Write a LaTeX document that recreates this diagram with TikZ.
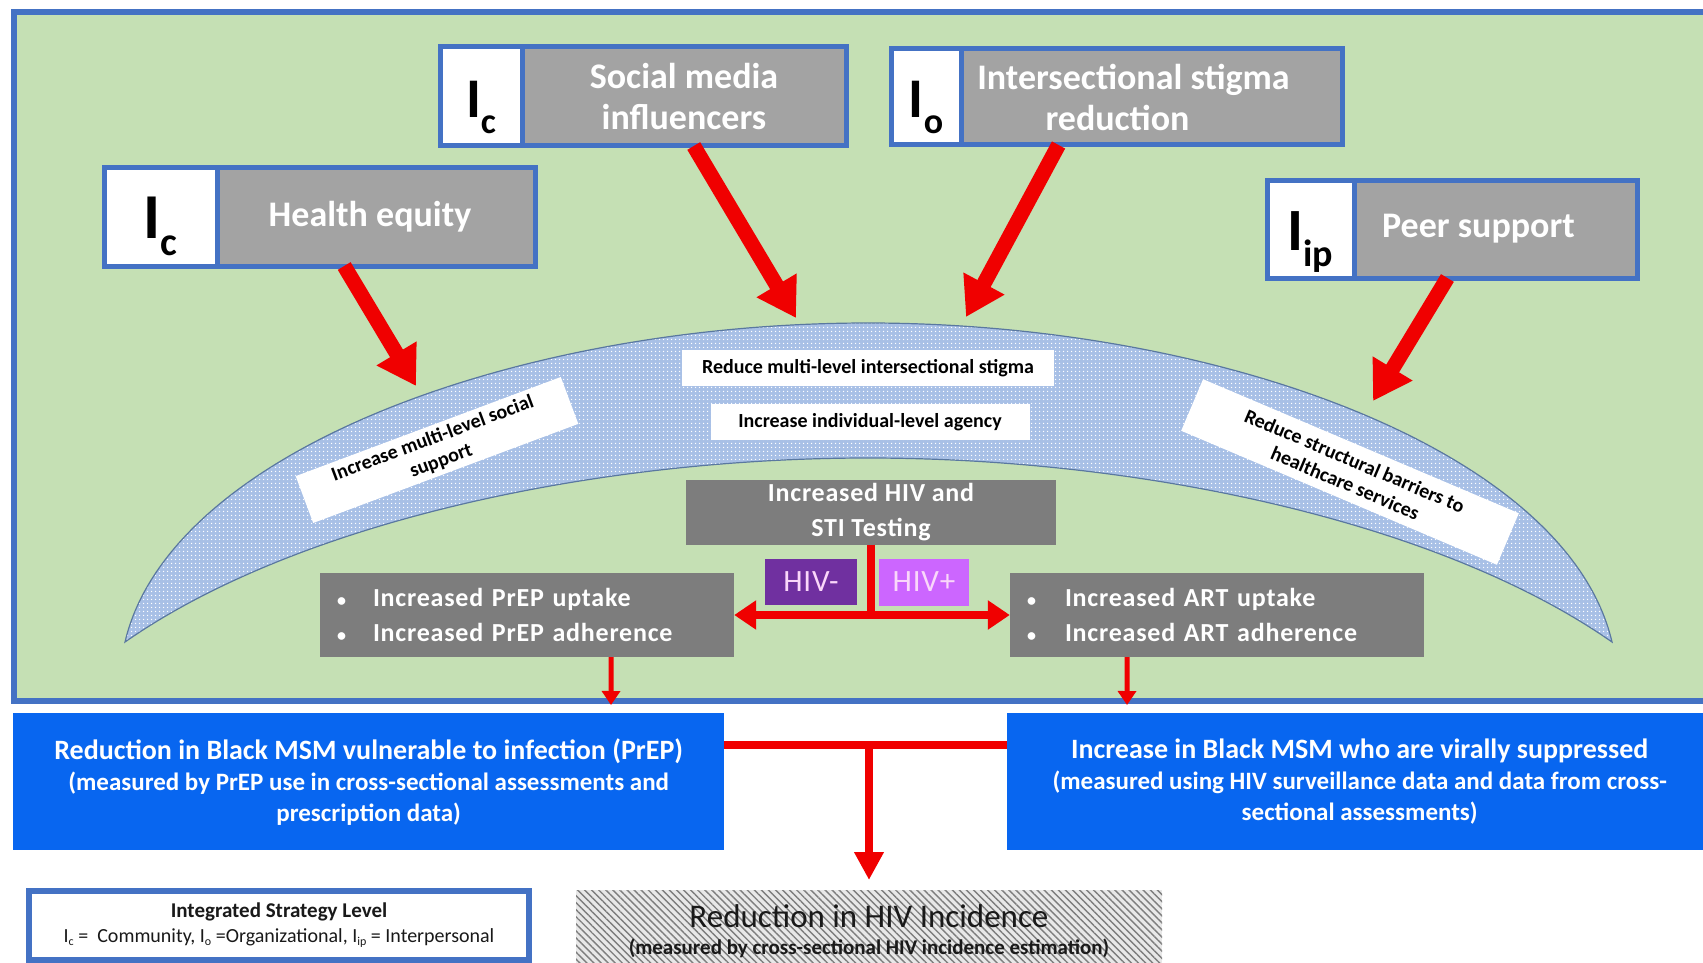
\documentclass[tikz,border=0pt]{standalone}
\usepackage{fontspec}
\setmainfont{Carlito}
\newfontfamily\spfont[LetterSpace=3]{Carlito}
\usetikzlibrary{arrows.meta,calc,patterns.meta}
\definecolor{frameblue}{RGB}{68,114,196}
\definecolor{bggreen}{RGB}{197,224,180}
\definecolor{lgray}{RGB}{163,163,163}
\definecolor{dgray}{RGB}{125,125,125}
\definecolor{brightblue}{RGB}{8,102,240}
\definecolor{arrred}{RGB}{240,0,0}
\definecolor{crescfill}{RGB}{168,192,230}
\definecolor{crescedge}{RGB}{90,120,160}
\definecolor{hivneg}{RGB}{112,48,160}
\definecolor{hivpos}{RGB}{204,102,255}
\definecolor{hivtext}{RGB}{250,215,250}
\definecolor{hatchbg}{RGB}{232,232,232}
\definecolor{hatchln}{RGB}{125,125,125}
\definecolor{darktext}{RGB}{25,25,25}
\newcommand{\fsz}[2]{\fontsize{#1}{#2}\selectfont}
% \Ilev{size of I}{size of subscript}{subscript}
\newcommand{\Ilev}[3]{{\fsz{#1}{#1}\bfseries I}\raisebox{-0.28\dimexpr#1pt\relax}{\fsz{#2}{#2}\bfseries #3}}
\newcommand{\Ismall}[1]{I\raisebox{-3pt}{\fsz{12}{12}#1}}
\newcommand{\blt}[1]{\makebox[#1][l]{\fsz{18}{18}\textbullet}}
\begin{document}
\begin{tikzpicture}[x=1pt,y=-1pt,
  greenframe/.style={draw=frameblue,line width=6pt,fill=bggreen},
  iconbox/.style={draw=frameblue,line width=5pt,fill=white,inner sep=0pt,outer sep=0pt,anchor=north west,text=black,text height=44pt,text depth=2pt},
  lblbox/.style={draw=frameblue,line width=5pt,fill=lgray,inner sep=0pt,outer sep=0pt,anchor=north west,text=white,font=\bfseries\fsz{36}{41},align=center},
  bigarrow/.style={draw=arrred,line width=15pt,-{Triangle[width=44pt,length=38pt]}},
  teeline/.style={draw=arrred,line width=8pt},
  teearrow/.style={teeline,-{Triangle[width=28pt,length=22pt]}},
  downarrow/.style={teeline,-{Triangle[width=28pt,length=28pt]}},
  smallarrow/.style={draw=arrred,line width=5pt,-{Triangle[width=18pt,length=14pt]}},
  wlabel/.style={fill=white,inner sep=0pt,text=black,font=\bfseries\fsz{20}{24},align=center},
  dbox/.style={fill=dgray,inner sep=0pt,text=white,font=\spfont\bfseries\fsz{26}{35}},
  hivbox/.style={inner sep=0pt,text=hivtext,font=\spfont\fsz{31}{31}},
  outbox/.style={fill=brightblue,inner sep=0pt,anchor=north west,text=white,align=center,font=\bfseries\fsz{25}{31}},
]
\useasboundingbox (0,0) rectangle (1703,963);
\fill[white] (0,0) rectangle (1703,963);
\draw[greenframe] (14,12) rectangle (1730,701);

% crescent
\path[fill=crescfill,
      postaction={pattern={Dots[distance=4pt,radius=0.9pt]},pattern color=white},
      postaction={draw=crescedge,line width=1.2pt}]
  (125,642) .. controls (170,450) and (520,323) .. (868,323)
  .. controls (1217,323) and (1567,450) .. (1612,642)
  .. controls (1437,520) and (1137,458) .. (868,458)
  .. controls (600,458) and (300,520) .. (125,642) -- cycle;

\node[wlabel,minimum width=372pt,minimum height=36pt] (stig) at (868,368) {Reduce multi-level intersectional stigma};
\node[wlabel,minimum width=319pt,minimum height=36pt] (agency) at (870,422) {Increase individual-level agency};
\node[wlabel,minimum width=283pt,minimum height=50pt,rotate=20.5] (msup) at (437,450) {Increase multi-level social\\support};
\node[wlabel,minimum width=343pt,minimum height=56pt,rotate=-23] (struct) at (1350,472) {Reduce structural barriers to\\healthcare services};

% top boxes
\node[iconbox,minimum width=82pt,minimum height=99pt] (smI) at (440,47) {\Ilev{56}{36}{c}};
\node[lblbox,minimum width=324pt,minimum height=99pt] (sm) at (522,47) {Social media\\influencers};
\node[iconbox,minimum width=70pt,minimum height=96pt] (isI) at (891,49) {\Ilev{56}{36}{o}};
\node[lblbox,minimum width=381pt,minimum height=96pt] (is) at (961,49) {Intersectional stigma\hspace*{36pt}\\reduction\hspace*{68pt}};
\node[iconbox,minimum width=113pt,minimum height=98pt] (heI) at (104,168) {\Ilev{64}{40}{c}};
\node[lblbox,minimum width=318pt,minimum height=98pt] (he) at (217,168) {Health equity\hspace*{12pt}};
\node[iconbox,minimum width=87pt,minimum height=98pt] (psI) at (1267,180) {\Ilev{60}{38}{ip}};
\node[lblbox,minimum width=283pt,minimum height=98pt] (ps) at (1354,180) {Peer support\hspace*{34pt}};

% big arrows
\coordinate (heTip) at (416,386);
\coordinate (smTip) at (796,318);
\coordinate (isTip) at (966,317);
\coordinate (psTip) at (1373,401);
\draw[bigarrow] ($(he.south west)!0.40!(he.south east)$) -- (heTip);
\draw[bigarrow] ($(sm.south west)!0.53!(sm.south east)$) -- (smTip);
\draw[bigarrow] ($(is.south west)!0.256!(is.south east)$) -- (isTip);
\draw[bigarrow] ($(ps.south west)!0.33!(ps.south east)$) -- (psTip);

% testing and care boxes
\node[dbox,minimum width=370pt,minimum height=65pt,align=center] (test) at (871,512) {Increased HIV and\\STI Testing};
\node[hivbox,fill=hivneg,minimum width=92pt,minimum height=46pt] (neg) at (811,582) {HIV-};
\node[hivbox,fill=hivpos,minimum width=90pt,minimum height=47pt] (pos) at (924,582) {HIV+};
\node[dbox,minimum width=414pt,minimum height=84pt,text width=380pt,align=left] (prep) at (527,615)
  {\blt{36pt}Increased PrEP uptake\\\blt{36pt}Increased PrEP adherence};
\node[dbox,minimum width=414pt,minimum height=84pt,text width=380pt,align=left] (art) at (1217,615)
  {\blt{38pt}Increased ART uptake\\\blt{38pt}Increased ART adherence};

\coordinate (split) at (test.south |- prep.east);
\draw[teeline] (test.south) -- (split);
\draw[teearrow] (split) -- (prep.east);
\draw[teearrow] (split) -- (art.west);

\coordinate (prepTip) at (611,705);
\coordinate (artTip) at (1127,705);
\draw[smallarrow] ($(prep.south west)!0.703!(prep.south east)$) -- (prepTip);
\draw[smallarrow] ($(art.south west)!0.283!(art.south east)$) -- (artTip);

% outcome boxes
\node[outbox,minimum width=711pt,minimum height=137pt] (redu) at (13,713)
  {\fsz{28}{31}Reduction in Black MSM vulnerable to infection (PrEP)\\(measured by PrEP use in cross-sectional assessments and\\prescription data)};
\node[outbox,minimum width=705pt,minimum height=137pt] (incr) at (1007,713)
  {\fsz{28}{31}Increase in Black MSM who are virally suppressed\\(measured using HIV surveillance data and data from cross-\\sectional assessments)};

\node[fill=hatchbg,postaction={pattern={Lines[angle=-45,distance=5pt,line width=1.4pt]},pattern color=hatchln},
      minimum width=586pt,minimum height=82pt,anchor=north,inner sep=0pt,align=center,text=darktext,font=\fsz{21}{27}] (inc) at (869,890)
  {\fsz{33}{27}Reduction in HIV Incidence\\\bfseries(measured by cross-sectional HIV incidence estimation)};

\coordinate (jl) at (redu.east |- 0,745);
\coordinate (jr) at (incr.west |- 0,745);
\coordinate (jm) at (inc.north |- 0,745);
\draw[teeline] (jl) -- (jr);
\draw[downarrow] (jm) -- ($(inc.north)+(0,-10)$);

% legend
\node[draw=frameblue,line width=6pt,fill=white,minimum width=500pt,minimum height=69pt,anchor=north west,inner sep=0pt,
      align=center,text=darktext,font=\fsz{20}{25}] (legend) at (26,888)
  {\bfseries\fsz{21}{25}Integrated Strategy Level\\\Ismall{c} =\ \ Community, \Ismall{o} =Organizational, \Ismall{ip} = Interpersonal};
\end{tikzpicture}
\end{document}
